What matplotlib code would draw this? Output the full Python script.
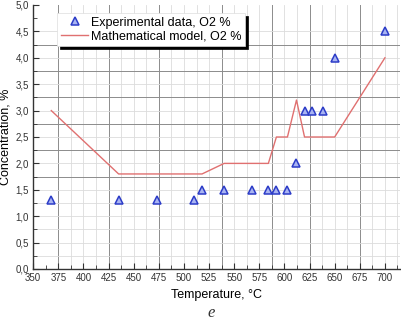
import matplotlib
matplotlib.use("Agg")
import matplotlib.pyplot as plt
from matplotlib.ticker import MultipleLocator, FuncFormatter

plt.rcParams['font.family'] = ['Liberation Sans', 'DejaVu Sans']

# Experimental data
exp_temp = [368, 435, 473, 510, 518, 540, 568, 584, 592, 603, 612, 620, 627, 638, 650, 700]
exp_o2 = [1.3, 1.3, 1.3, 1.3, 1.5, 1.5, 1.5, 1.5, 1.5, 1.5, 2.0, 3.0, 3.0, 3.0, 4.0, 4.5]

# Mathematical model
mod_temp = [368, 435, 518, 540, 584, 592, 603, 612, 620, 650, 700]
mod_o2 = [3.0, 1.8, 1.8, 2.0, 2.0, 2.5, 2.5, 3.2, 2.5, 2.5, 4.0]

xlabel = "Temperature, °C"
ylabel = "Concentration, %"
legend_exp = "Experimental data, O2 %"
legend_mod = "Mathematical model, O2 %"
panel = "e"

fig = plt.figure(figsize=(4.02, 3.22), dpi=100)
ax = fig.add_axes([33.2 / 402, 53 / 322, 366.8 / 402, 264 / 322])

ax.set_xlim(350, 715)
ax.set_ylim(0, 5.0)

# grid
light = '#dcdcdc'
dark = '#8c8c8c'
for v in [387.5, 400, 412.5, 437.5, 450, 462.5, 487.5, 500, 512.5, 525, 550, 562.5, 575, 600,
          612.5, 637.5, 650, 662.5, 687.5, 700, 712.5]:
    ax.axvline(v, color=light, lw=0.6, zorder=0)
for v in [375, 425, 475, 537.5, 587.5, 625, 675]:
    ax.axvline(v, color=dark, lw=0.7, zorder=0)
for h in [0.5, 1.0, 1.5, 2.0, 2.5, 3.0, 3.5, 4.0, 4.5, 0.25, 0.75, 1.25]:
    ax.axhline(h, color=light, lw=0.6, zorder=0)
for h in [1.75, 2.25, 2.75, 3.25, 3.75, 4.25]:
    ax.axhline(h, color=dark, lw=0.7, zorder=0)

ax.plot(mod_temp, mod_o2, color='#e07070', lw=1.0, label=legend_mod, zorder=2)
ax.plot(exp_temp, exp_o2, linestyle='none', marker='^', markersize=6,
        markerfacecolor='#a9b4f2', markeredgecolor='#2c3cc8', markeredgewidth=1.1,
        label=legend_exp, zorder=3)

for s in ['top', 'right']:
    ax.spines[s].set_visible(False)
for s in ['left', 'bottom']:
    ax.spines[s].set_color('#333333')
    ax.spines[s].set_linewidth(1.0)

ax.xaxis.set_major_locator(MultipleLocator(25))
ax.xaxis.set_minor_locator(MultipleLocator(12.5))
ax.yaxis.set_major_locator(MultipleLocator(0.5))
ax.yaxis.set_minor_locator(MultipleLocator(0.25))
ax.yaxis.set_major_formatter(FuncFormatter(lambda v, p: f"{v:.1f}".replace('.', ',')))
ax.set_xticks([350 + 25 * i for i in range(15)])
ax.tick_params(which='both', direction='in', color='#333333', labelsize=7, labelcolor='#333333')
ax.tick_params(which='major', length=4, pad=3)
ax.tick_params(which='minor', length=3)

ax.set_xlabel(xlabel, fontsize=9, labelpad=4)
ax.set_ylabel(ylabel, fontsize=9, labelpad=3)

h_exp, l_exp = ax.get_legend_handles_labels()
handles = [h_exp[1], h_exp[0]]
labels = [l_exp[1], l_exp[0]]
leg = ax.legend(handles, labels, loc='upper left', bbox_to_anchor=(0.065, 0.97),
                borderaxespad=0, fontsize=9, handlelength=2.2, handletextpad=0.2,
                labelspacing=0.15, borderpad=0.3, fancybox=False, framealpha=1,
                shadow={'color': 'black', 'alpha': 1}, edgecolor='#dddddd')
leg.get_frame().set_linewidth(0.5)

fig.text(211 / 402, 1 - 313 / 322, panel, fontsize=12, style='italic',
         family=['Liberation Serif', 'DejaVu Serif'], ha='center', va='center', color='#333333')

fig.savefig("out.png", dpi=100)
